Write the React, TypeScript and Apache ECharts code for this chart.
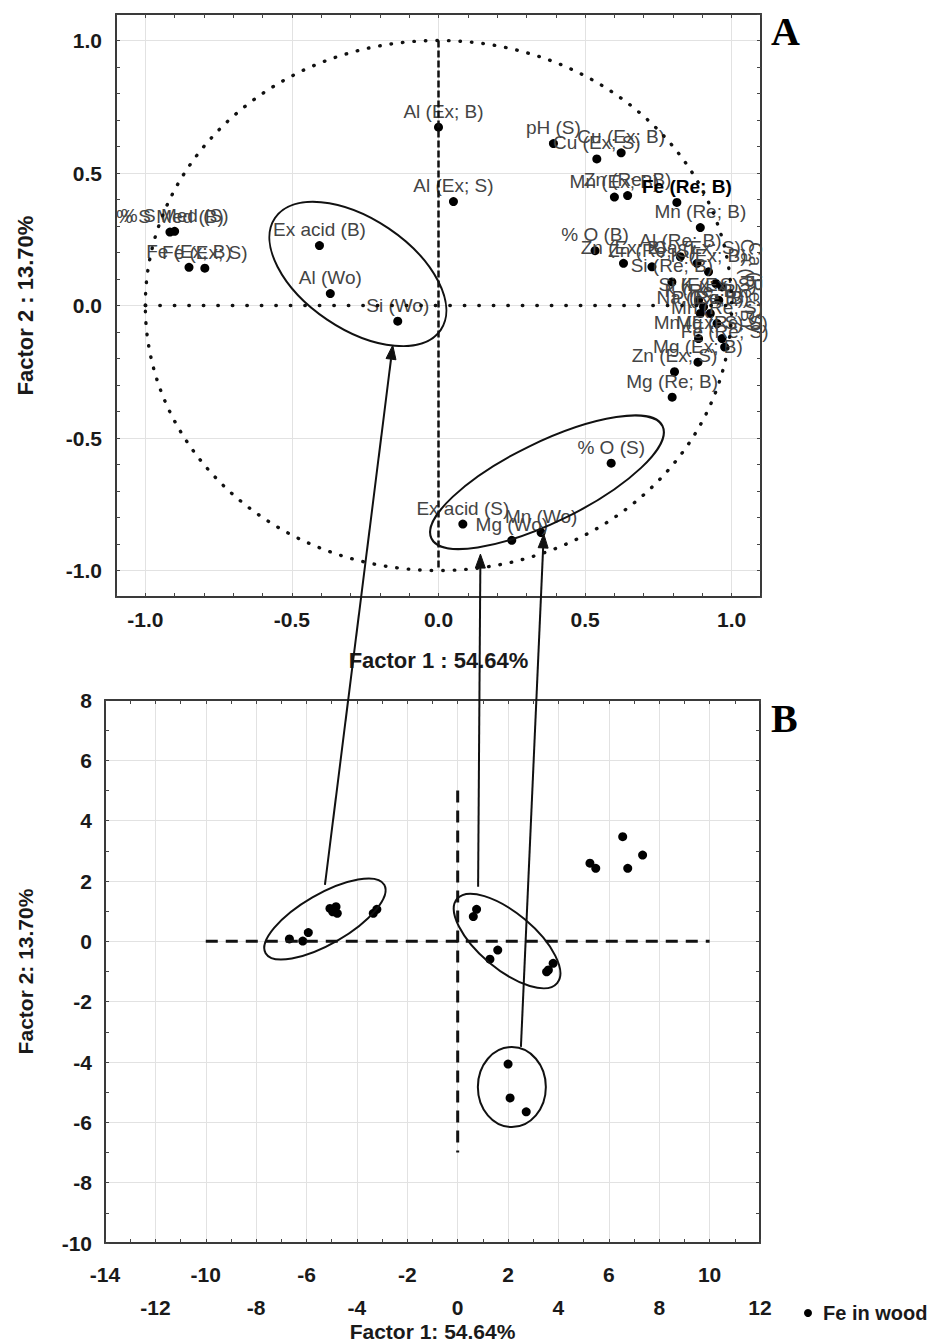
import React, { useEffect, useRef } from "react";
import * as echarts from "echarts";

const FONT = "'Liberation Sans', Arial, Helvetica, sans-serif";

// ---- Panel A: loadings of the variables on factors 1 and 2 ----
const loadingNames = [
  "Al (Ex; B)", "Al (Ex; S)", "% S Med (B)", "% S Med (S)", "Fe (Ex; B)", "Fe (Ex; S)",
  "Ex acid (B)", "Al (Wo)", "Si (Wo)", "% O (S)", "Ex acid (S)", "Mg (Wo)", "Mn (Wo)",
  "pH (S)", "Cu (Ex; S)", "Cu (Ex; B)", "Mn (Ex; B)", "Zn (Re; B)", "Fe (Re; B)", "Mn (Re; B)",
  "% O (B)", "Zn (Ex; B)", "Zn (Re; S)", "Al (Re; B)", "Ca (Ex; S)", "Si (Re; B)", "K (Ex; B)",
  "Ca (Re; B)", "Ca (Re; S)", "Si (Ex; S)", "K (Re; B)", "P (Re; B)", "Na (Ex; B)", "K (Ex; S)",
  "Mn (Re; S)", "Mn (Ex; S)", "Mg (Re; S)", "Fe (Re; S)", "Mg (Ex; B)", "Zn (Ex; S)", "Mg (Re; B)",
];
const loadingF1 = [
  0.0, 0.051, -0.916, -0.9, -0.851, -0.797, -0.406, -0.369, -0.139, 0.589, 0.083, 0.25, 0.35,
  0.392, 0.54, 0.623, 0.6, 0.645, 0.813, 0.893, 0.534, 0.631, 0.728, 0.825, 0.882, 0.796, 0.921,
  0.946, 0.967, 0.887, 0.904, 0.927, 0.893, 0.956, 0.95, 0.887, 0.967, 0.976, 0.885, 0.805, 0.797,
];
const loadingF2 = [
  0.673, 0.392, 0.277, 0.28, 0.144, 0.141, 0.226, 0.045, -0.059, -0.595, -0.825, -0.886, -0.857,
  0.611, 0.553, 0.576, 0.409, 0.415, 0.389, 0.294, 0.207, 0.159, 0.146, 0.184, 0.159, 0.089, 0.127,
  0.083, 0.07, 0.02, -0.005, -0.03, -0.03, 0.02, -0.068, -0.125, -0.125, -0.157, -0.214, -0.25, -0.346,
];

// ---- Panel B: factor scores of the samples ----
const scoreSeriesName = "Fe in wood";
const scoreF1 = [
  -6.68, -6.15, -5.93, -5.07, -4.96, -4.83, -4.78, -3.35, -3.21,
  0.62, 0.75, 1.28, 1.59, 3.53, 3.6, 3.79,
  2.0, 2.08, 2.72,
  5.25, 5.48, 6.55, 6.75, 7.34,
];
const scoreF2 = [
  0.08, 0.01, 0.29, 1.09, 0.98, 1.15, 0.93, 0.93, 1.06,
  0.82, 1.06, -0.59, -0.29, -1.01, -0.95, -0.73,
  -4.07, -5.19, -5.65,
  2.59, 2.42, 3.47, 2.42, 2.86,
];

const factor1NameA = "Factor 1 : 54.64%";
const factor2NameA = "Factor 2 : 13.70%";
const factor1NameB = "Factor 1: 54.64%";
const factor2NameB = "Factor 2: 13.70%";

// label adjustments for crowded points (screen offsets / rotation)
const labelTweaks: Record<string, any> = {
  "Al (Ex; B)": { offset: [5, 0] },
  "Fe (Re; B)": { offset: [10, 0], fontWeight: "bold", color: "#000" },
  "Ca (Re; B)": { position: "right", distance: 27, rotate: -90, align: "center", verticalAlign: "middle" },
  "Ca (Re; S)": { position: "right", distance: 29, rotate: -90, align: "center", verticalAlign: "middle" },
};

// grouping ellipses: centre in data units, radii in px, tilt in degrees
const ringsA = [
  { center: [-0.275, 0.119], rx: 100, ry: 55, angle: -34 },
  { center: [0.37, -0.667], rx: 128.5, ry: 40, angle: 26 },
];
const ringsB = [
  { center: [-5.27, 0.74], rx: 68.5, ry: 25, angle: 30 },
  { center: [1.96, 0.01], rx: 65.4, ry: 28, angle: -40 },
  { center: [2.15, -4.83], rx: 34, ry: 40, angle: 0 },
];
// arrows from sample groups (panel B) to variable groups (panel A)
const links = [
  { from: [-5.27, 1.87], to: [-0.156, -0.15] },
  { from: [0.81, 1.81], to: [0.143, -0.938] },
  { from: [2.51, -3.5], to: [0.359, -0.862] },
];

const gridA = { left: 116, top: 14, width: 645, height: 583 };
const gridB = { left: 105, top: 700, width: 655, height: 543 };

const frameLine = { show: true, onZero: false, lineStyle: { color: "#3a3a3a", width: 2 } };
const innerTicks = { show: true, inside: true, length: 4, lineStyle: { color: "#444", width: 1 } };
const tickFont = { fontSize: 21, fontWeight: "bold", color: "#1a1a1a", fontFamily: FONT };
const nameFontA = { fontSize: 22, fontWeight: "bold", color: "#1a1a1a", fontFamily: FONT };
const nameFontB = { fontSize: 21, fontWeight: "bold", color: "#1a1a1a", fontFamily: FONT };
const GRID_C = "#e2e2e2";
const NONE = "rgba(0,0,0,0)";

const halfLabel = (v: number) => {
  const k = v * 2;
  return Math.abs(k - Math.round(k)) < 1e-6 && Math.abs(v) <= 1.0001 ? v.toFixed(1) : "";
};
const evenLabel = (v: number) => (Math.abs(Math.round(v)) % 2 === 0 ? String(Math.round(v)) : "");
// bottom labels of panel B alternate between two rows
const twoRowLabel = (v: number) => {
  const r = Math.round(v);
  if (Math.abs(r) % 2 === 1) return "";
  return ((r + 14) % 4 === 0 ? "" : "\n") + r;
};

function mirror(kind: "x" | "y", gridIndex: number, min: number, max: number, interval: number) {
  return {
    type: "value",
    gridIndex,
    position: kind === "x" ? "top" : "right",
    min,
    max,
    interval,
    axisLine: frameLine,
    axisTick: innerTicks,
    axisLabel: { show: false },
    splitLine: { show: false },
  };
}

function buildOption(): any {
  return {
    animation: false,
    backgroundColor: "#fff",
    textStyle: { fontFamily: FONT },
    grid: [
      { ...gridA, containLabel: false, outerBoundsMode: "none" },
      { ...gridB, containLabel: false, outerBoundsMode: "none" },
    ],
    xAxis: [
      {
        type: "value", gridIndex: 0, position: "bottom", min: -1.1, max: 1.1, interval: 0.1,
        axisLine: frameLine, axisTick: innerTicks,
        axisLabel: { ...tickFont, margin: 12, formatter: halfLabel },
        splitLine: { show: true, lineStyle: { color: [NONE, GRID_C, NONE, NONE, NONE], width: 1 } },
        name: factor1NameA, nameLocation: "middle", nameGap: 52, nameTextStyle: nameFontA, nameMoveOverlap: false,
      },
      mirror("x", 0, -1.1, 1.1, 0.1),
      {
        type: "value", gridIndex: 1, position: "bottom", min: -14, max: 12, interval: 1,
        axisLine: frameLine, axisTick: innerTicks,
        axisLabel: { ...tickFont, margin: 15, lineHeight: 33, formatter: twoRowLabel },
        splitLine: { show: true, lineStyle: { color: [GRID_C, NONE], width: 1 } },
        name: factor1NameB, nameLocation: "middle", nameGap: 78, nameTextStyle: nameFontB, nameMoveOverlap: false,
      },
      mirror("x", 1, -14, 12, 1),
    ],
    yAxis: [
      {
        type: "value", gridIndex: 0, position: "left", min: -1.1, max: 1.1, interval: 0.1,
        axisLine: frameLine, axisTick: innerTicks,
        axisLabel: { ...tickFont, margin: 14, formatter: halfLabel },
        splitLine: { show: true, lineStyle: { color: [NONE, GRID_C, NONE, NONE, NONE], width: 1 } },
        name: factor2NameA, nameLocation: "middle", nameGap: 80, nameRotate: 90, nameTextStyle: nameFontA, nameMoveOverlap: false,
      },
      mirror("y", 0, -1.1, 1.1, 0.1),
      {
        type: "value", gridIndex: 1, position: "left", min: -10, max: 8, interval: 1,
        axisLine: frameLine, axisTick: innerTicks,
        axisLabel: { ...tickFont, margin: 13, formatter: evenLabel },
        splitLine: { show: true, lineStyle: { color: [GRID_C, NONE], width: 1 } },
        name: factor2NameB, nameLocation: "middle", nameGap: 69, nameRotate: 90, nameTextStyle: nameFontB, nameMoveOverlap: false,
      },
      mirror("y", 1, -10, 8, 1),
    ],
    legend: {
      data: [scoreSeriesName],
      left: 799,
      top: 1298,
      icon: "circle",
      itemWidth: 8,
      itemHeight: 8,
      selectedMode: false,
      itemStyle: { opacity: 1, color: "#000" },
      textStyle: { fontSize: 20, fontWeight: "bold", color: "#1a1a1a", fontFamily: FONT, lineHeight: 20, padding: [0, 0, 0, 6] },
    },
    series: [
      {
        type: "scatter",
        name: "loadings",
        xAxisIndex: 0,
        yAxisIndex: 0,
        symbolSize: 9,
        silent: true,
        itemStyle: { color: "#000", opacity: 1 },
        label: {
          show: true, position: "top", distance: 2, formatter: "{b}",
          fontSize: 19, color: "#444", fontFamily: FONT,
        },
        data: loadingNames.map((n, i) => ({
          name: n,
          value: [loadingF1[i], loadingF2[i]],
          ...(labelTweaks[n] ? { label: labelTweaks[n] } : {}),
        })),
        z: 3,
      },
      {
        type: "scatter",
        name: scoreSeriesName,
        xAxisIndex: 2,
        yAxisIndex: 2,
        symbolSize: 9,
        silent: true,
        itemStyle: { color: "#000", opacity: 1 },
        data: scoreF1.map((x, i) => [x, scoreF2[i]]),
        z: 3,
      },
    ],
  };
}

function buildGraphics(chart: echarts.ECharts): any[] {
  const toA = (p: number[]) => chart.convertToPixel({ seriesIndex: 0 }, p) as number[];
  const toB = (p: number[]) => chart.convertToPixel({ seriesIndex: 1 }, p) as number[];
  const els: any[] = [];
  const ink = "#111";

  const seg = (a: number[], b: number[], style: any) => ({
    type: "line", silent: true, z: 5,
    shape: { x1: a[0], y1: a[1], x2: b[0], y2: b[1] },
    style: { stroke: ink, ...style },
  });

  // unit circle of the loadings plot (dotted)
  const o = toA([0, 0]);
  const ex = toA([1, 0]);
  const ey = toA([0, 1]);
  els.push({
    type: "ellipse", silent: true, z: 4,
    shape: { cx: o[0], cy: o[1], rx: ex[0] - o[0], ry: o[1] - ey[1] },
    style: { fill: "none", stroke: ink, lineWidth: 3.4, lineDash: [0.5, 11], lineCap: "round" },
  });
  // reference axes in panel A
  els.push(seg(toA([-1, 0]), toA([1, 0]), { lineWidth: 3.4, lineDash: [0.5, 14], lineCap: "round" }));
  els.push(seg(toA([0, 1]), toA([0, -1]), { lineWidth: 2.5, lineDash: [7, 3] }));
  // reference axes in panel B
  els.push(seg(toB([-10, 0]), toB([10, 0]), { lineWidth: 3, lineDash: [12, 8] }));
  els.push(seg(toB([0, 5]), toB([0, -7]), { lineWidth: 3, lineDash: [12, 8] }));

  const ring = (c: number[], r: any) => ({
    type: "ellipse", silent: true, z: 5,
    x: c[0], y: c[1], rotation: (r.angle * Math.PI) / 180,
    shape: { cx: 0, cy: 0, rx: r.rx, ry: r.ry },
    style: { fill: "none", stroke: ink, lineWidth: 2 },
  });
  ringsA.forEach((r) => els.push(ring(toA(r.center), r)));
  ringsB.forEach((r) => els.push(ring(toB(r.center), r)));

  // arrows
  const headLen = 14;
  const headHalf = 5;
  links.forEach((l) => {
    const s = toB(l.from);
    const t = toA(l.to);
    const dx = t[0] - s[0];
    const dy = t[1] - s[1];
    const len = Math.hypot(dx, dy);
    const ux = dx / len;
    const uy = dy / len;
    const bx = t[0] - ux * headLen;
    const by = t[1] - uy * headLen;
    els.push(seg(s, [bx, by], { lineWidth: 2 }));
    els.push({
      type: "polygon", silent: true, z: 6,
      shape: { points: [[t[0], t[1]], [bx - uy * headHalf, by + ux * headHalf], [bx + uy * headHalf, by - ux * headHalf]] },
      style: { fill: ink, stroke: ink, lineWidth: 1 },
    });
  });

  // panel letters
  const letter = (text: string, x: number, y: number) => ({
    type: "text", silent: true, z: 6, x, y,
    style: {
      text, fill: "#000", fontSize: 40, fontWeight: "bold",
      fontFamily: "'Liberation Serif', 'Times New Roman', serif",
      align: "left", verticalAlign: "middle",
    },
  });
  els.push(letter("A", 771, 31));
  els.push(letter("B", 771, 718));
  return els;
}

export default function App() {
  const ref = useRef<HTMLDivElement>(null);
  useEffect(() => {
    if (!ref.current) return;
    const chart = echarts.init(ref.current, null, { renderer: "svg" });
    chart.setOption(buildOption());
    chart.setOption({ graphic: buildGraphics(chart) });
    return () => chart.dispose();
  }, []);
  return (
    <div
      ref={ref}
      style={{ position: "absolute", left: 0, top: 0, width: 948, height: 1343, background: "#fff" }}
    />
  );
}
